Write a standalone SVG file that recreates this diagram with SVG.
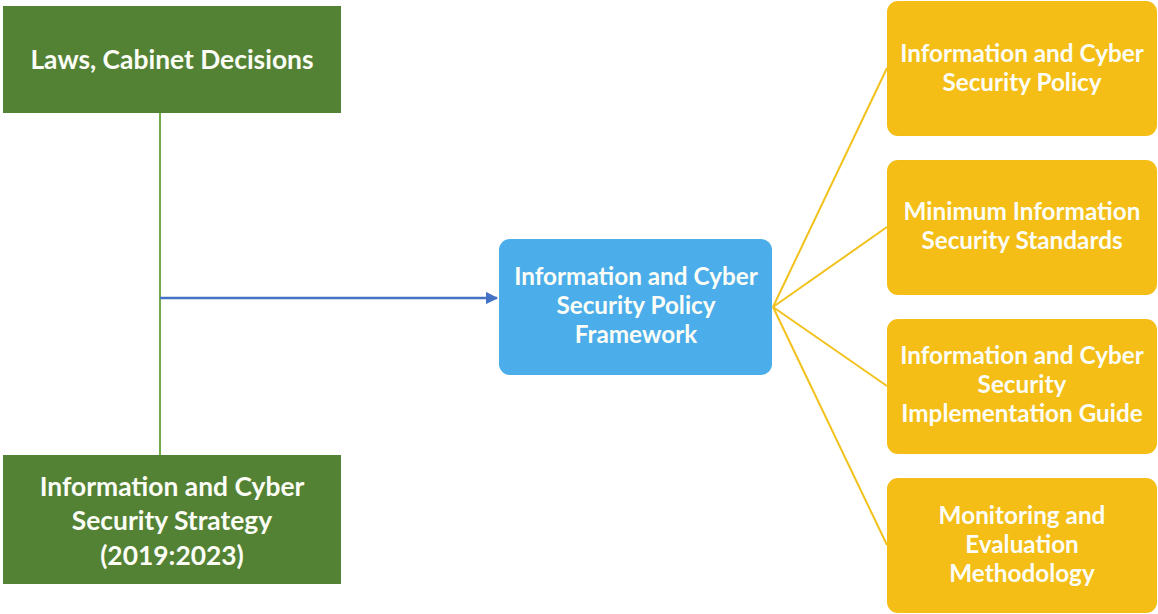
<svg xmlns="http://www.w3.org/2000/svg" width="1158" height="614" viewBox="0 0 1158 614">
  <defs>
    <marker id="arrow" viewBox="0 0 10 10" refX="9" refY="5" markerWidth="5" markerHeight="5" orient="auto" markerUnits="strokeWidth">
      <path d="M0,0 L10,5 L0,10 z" fill="#4472C4"/>
    </marker>
    <style>
      .green { fill: #548235; }
      .blue { fill: #4BAEEA; }
      .gold { fill: #F4BE16; }
      text { font-family: Lato, "Open Sans", "Liberation Sans", sans-serif; font-weight: bold; fill: #FBFDF6; text-anchor: middle; }
      .lg { font-size: 26.4px; }
      .md { font-size: 24.3px; }
      .trunk { stroke: #70AD47; stroke-width: 2; fill: none; }
      .feed { stroke: #4472C4; stroke-width: 2.5; fill: none; }
      .branch { stroke: #F2C21C; stroke-width: 2; fill: none; }
    </style>
  </defs>
  <rect width="1158" height="614" fill="#FFFFFF"/>

  <g id="connectors">
    <line class="trunk" x1="160" y1="113" x2="160" y2="455"/>
    <line class="feed" x1="160" y1="298" x2="497" y2="298" marker-end="url(#arrow)"/>
    <line class="branch" x1="773" y1="307" x2="887" y2="68"/>
    <line class="branch" x1="773" y1="307" x2="887" y2="227"/>
    <line class="branch" x1="773" y1="307" x2="887" y2="386"/>
    <line class="branch" x1="773" y1="307" x2="887" y2="545"/>
  </g>

  <g id="laws">
    <rect class="green" x="3" y="6" width="338" height="107"/>
    <text class="lg" x="172" y="69">Laws, Cabinet Decisions</text>
  </g>

  <g id="strategy">
    <rect class="green" x="3" y="455" width="338" height="129"/>
    <text class="lg" x="172" y="496">Information and Cyber</text>
    <text class="lg" x="172" y="530">Security Strategy</text>
    <text class="lg" x="172" y="565">(2019:2023)</text>
  </g>

  <g id="framework">
    <rect class="blue" x="499" y="239" width="273" height="136" rx="11"/>
    <text class="md" x="636" y="285">Information and Cyber</text>
    <text class="md" x="636" y="314">Security Policy</text>
    <text class="md" x="636" y="343">Framework</text>
  </g>

  <g id="policy">
    <rect class="gold" x="887" y="1" width="270" height="135" rx="11"/>
    <text class="md" x="1022" y="62">Information and Cyber</text>
    <text class="md" x="1022" y="91">Security Policy</text>
  </g>

  <g id="standards">
    <rect class="gold" x="887" y="160" width="270" height="135" rx="11"/>
    <text class="md" x="1022" y="220">Minimum Information</text>
    <text class="md" x="1022" y="249">Security Standards</text>
  </g>

  <g id="guide">
    <rect class="gold" x="887" y="319" width="270" height="135" rx="11"/>
    <text class="md" x="1022" y="364">Information and Cyber</text>
    <text class="md" x="1022" y="393">Security</text>
    <text class="md" x="1022" y="422">Implementation Guide</text>
  </g>

  <g id="methodology">
    <rect class="gold" x="887" y="478" width="270" height="135" rx="11"/>
    <text class="md" x="1022" y="524">Monitoring and</text>
    <text class="md" x="1022" y="553">Evaluation</text>
    <text class="md" x="1022" y="582">Methodology</text>
  </g>
</svg>
